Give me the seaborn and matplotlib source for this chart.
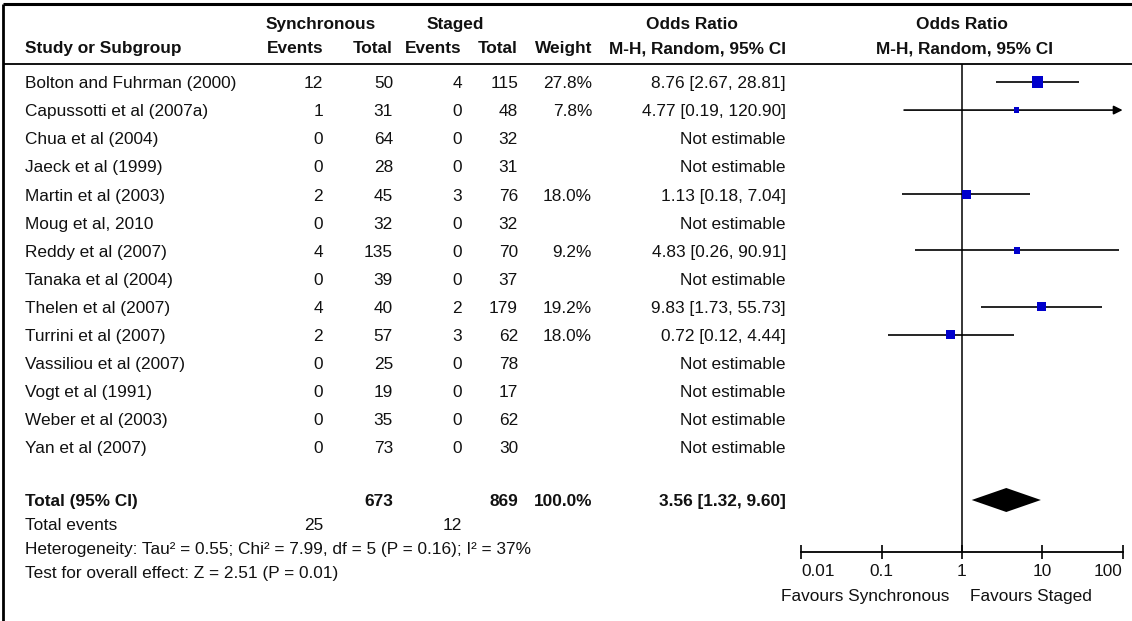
import numpy as np
import matplotlib
matplotlib.use("Agg")
import matplotlib.pyplot as plt
import pandas as pd
import seaborn as sns
from matplotlib import font_manager


STUDIES = [
    "Bolton and Fuhrman (2000)", "Capussotti et al (2007a)", "Chua et al (2004)",
    "Jaeck et al (1999)", "Martin et al (2003)", "Moug et al, 2010",
    "Reddy et al (2007)", "Tanaka et al (2004)", "Thelen et al (2007)",
    "Turrini et al (2007)", "Vassiliou et al (2007)", "Vogt et al (1991)",
    "Weber et al (2003)", "Yan et al (2007)",
]
SYNC_EVENTS = [12, 1, 0, 0, 2, 0, 4, 0, 4, 2, 0, 0, 0, 0]
SYNC_TOTAL = [50, 31, 64, 28, 45, 32, 135, 39, 40, 57, 25, 19, 35, 73]
STAGED_EVENTS = [4, 0, 0, 0, 3, 0, 0, 0, 2, 3, 0, 0, 0, 0]
STAGED_TOTAL = [115, 48, 32, 31, 76, 32, 70, 37, 179, 62, 78, 17, 62, 30]
WEIGHT = [27.8, 7.8, None, None, 18.0, None, 9.2, None, 19.2, 18.0, None, None, None, None]
OR_EST = [8.76, 4.77, None, None, 1.13, None, 4.83, None, 9.83, 0.72, None, None, None, None]
OR_LOW = [2.67, 0.19, None, None, 0.18, None, 0.26, None, 1.73, 0.12, None, None, None, None]
OR_HIGH = [28.81, 120.90, None, None, 7.04, None, 90.91, None, 55.73, 4.44, None, None, None, None]

TOTAL_SYNC = 673
TOTAL_STAGED = 869
EVENTS_SYNC = 25
EVENTS_STAGED = 12
POOLED = (3.56, 1.32, 9.60)
HETEROGENEITY = "Heterogeneity: Tau\u00b2 = 0.55; Chi\u00b2 = 7.99, df = 5 (P = 0.16); I\u00b2 = 37%"
OVERALL = "Test for overall effect: Z = 2.51 (P = 0.01)"
TICKS = [0.01, 0.1, 1, 10, 100]
TICK_LABELS = ["0.01", "0.1", "1", "10", "100"]

W, H = 1132, 621
BLUE = "#0000cc"
INK = "#111111"

sns.set_theme(style="white")
available = {f.name for f in font_manager.fontManager.ttflist}
family = "DejaVu Sans"
for name in ["Liberation Sans Narrow", "Liberation Sans"]:
    if name in available:
        family = name
        break
plt.rcParams["font.family"] = [family, "DejaVu Sans"]

fig = plt.figure(figsize=(W / 100, H / 100), dpi=100)
bg = fig.add_axes([0, 0, 1, 1])
bg.set_xlim(0, W)
bg.set_ylim(H, 0)
bg.axis("off")

# size the font so the first study label is ~210 px wide, like the reference
renderer = fig.canvas.get_renderer()
probe = bg.text(0, 0, STUDIES[0], fontsize=10)
fs = 10 * 212 / probe.get_window_extent(renderer).width
probe.remove()
cap = 0.72 * fs * 100 / 72


def put(x, y, s, ha="left", bold=False):
    bg.text(x, y + cap / 2, s, ha=ha, va="baseline", fontsize=fs,
            fontweight="bold" if bold else "normal", color=INK)


# frame lines
bg.plot([3, W], [4, 4], color="black", lw=2.2, solid_capstyle="butt")
bg.plot([3, 3], [4, H], color="black", lw=2.0, solid_capstyle="butt")
bg.plot([3, W], [64, 64], color="black", lw=1.3, solid_capstyle="butt")

# columns (right edges) and rows (centres)
x_name, x_se, x_st, x_qe, x_qt, x_w, x_or = 25, 323, 393, 462, 518, 592, 786
row_y = [82 + i * 28.08 for i in range(len(STUDIES))]
y_total, y_events, y_het, y_test = 500, 524, 548, 572

put(321, 23, "Synchronous", "center", True)
put(455, 23, "Staged", "center", True)
put(692, 23, "Odds Ratio", "center", True)
put(962, 23, "Odds Ratio", "center", True)
put(x_name, 47, "Study or Subgroup", bold=True)
put(x_se, 47, "Events", "right", True)
put(x_st, 47, "Total", "right", True)
put(x_qe, 47, "Events", "right", True)
put(x_qt, 47, "Total", "right", True)
put(x_w, 47, "Weight", "right", True)
put(x_or, 47, "M-H, Random, 95% CI", "right", True)
put(964, 47, "M-H, Random, 95% CI", "center", True)

for i, name in enumerate(STUDIES):
    y = row_y[i]
    put(x_name, y, name)
    put(x_se, y, str(SYNC_EVENTS[i]), "right")
    put(x_st, y, str(SYNC_TOTAL[i]), "right")
    put(x_qe, y, str(STAGED_EVENTS[i]), "right")
    put(x_qt, y, str(STAGED_TOTAL[i]), "right")
    if WEIGHT[i] is not None:
        put(x_w, y, f"{WEIGHT[i]:.1f}%", "right")
        put(x_or, y, f"{OR_EST[i]:.2f} [{OR_LOW[i]:.2f}, {OR_HIGH[i]:.2f}]", "right")
    else:
        put(x_or, y, "Not estimable", "right")

put(x_name, y_total, "Total (95% CI)", bold=True)
put(x_st, y_total, str(TOTAL_SYNC), "right", True)
put(x_qt, y_total, str(TOTAL_STAGED), "right", True)
put(x_w, y_total, "100.0%", "right", True)
put(x_or, y_total, f"{POOLED[0]:.2f} [{POOLED[1]:.2f}, {POOLED[2]:.2f}]", "right", True)
put(x_name, y_events, "Total events")
put(x_se, y_events, str(EVENTS_SYNC), "right")
put(x_qe, y_events, str(EVENTS_STAGED), "right")
put(x_name, y_het, HETEROGENEITY)
put(x_name, y_test, OVERALL)

# forest panel: log x from 0.01 to 100, y in the same pixel rows
x0, x1, y_axis = 801.4, 1122.6, 552
fa = fig.add_axes([x0 / W, (H - y_axis) / H, (x1 - x0) / W, (y_axis - 64) / H])
fa.set_facecolor("none")
fa.set_xscale("log")
fa.set_xlim(0.01, 100)
for side in ["top", "right", "left"]:
    fa.spines[side].set_visible(False)
fa.spines["bottom"].set_color("black")
fa.spines["bottom"].set_linewidth(1.3)

fa.axvline(1, color="black", lw=1.1, zorder=1)

est = pd.DataFrame({
    "y": row_y,
    "or": OR_EST,
    "low": OR_LOW,
    "high": OR_HIGH,
    "weight": WEIGHT,
}).dropna()

for _, r in est.iterrows():
    if r["high"] > 100:
        fa.annotate("", xy=(100, r["y"]), xytext=(r["low"], r["y"]),
                    annotation_clip=False,
                    arrowprops=dict(arrowstyle="-|>", color="black", lw=1.2,
                                    mutation_scale=13, shrinkA=0, shrinkB=0))
    else:
        fa.hlines(r["y"], r["low"], r["high"], color="black", lw=1.2, zorder=2)

k = 2.3
sns.scatterplot(data=est, x="or", y="y", size="weight",
                sizes=(k * est["weight"].min(), k * est["weight"].max()),
                size_norm=(est["weight"].min(), est["weight"].max()),
                marker="s", color=BLUE, edgecolor=BLUE, linewidth=0,
                legend=False, ax=fa, zorder=3)

pe, plo, phi = POOLED
fa.fill([plo, pe, phi, pe], [y_total, y_total - 12, y_total, y_total + 12],
        color="black", lw=0, zorder=3)

fa.set_xlabel("")
fa.set_ylabel("")
fa.set_xlim(0.01, 100)
fa.set_ylim(y_axis, 64)
fa.set_yticks([])
fa.set_xticks(TICKS)
fa.set_xticklabels(TICK_LABELS)
fa.minorticks_off()
fa.tick_params(axis="x", direction="inout", length=10, width=1.2, color="black",
               pad=4, labelsize=fs, labelcolor=INK, bottom=True)
labels = fa.get_xticklabels()
labels[0].set_horizontalalignment("left")
labels[-1].set_horizontalalignment("right")

put(949, 595, "Favours Synchronous", "right")
put(970, 595, "Favours Staged")

fig.savefig("out.png", dpi=100)
